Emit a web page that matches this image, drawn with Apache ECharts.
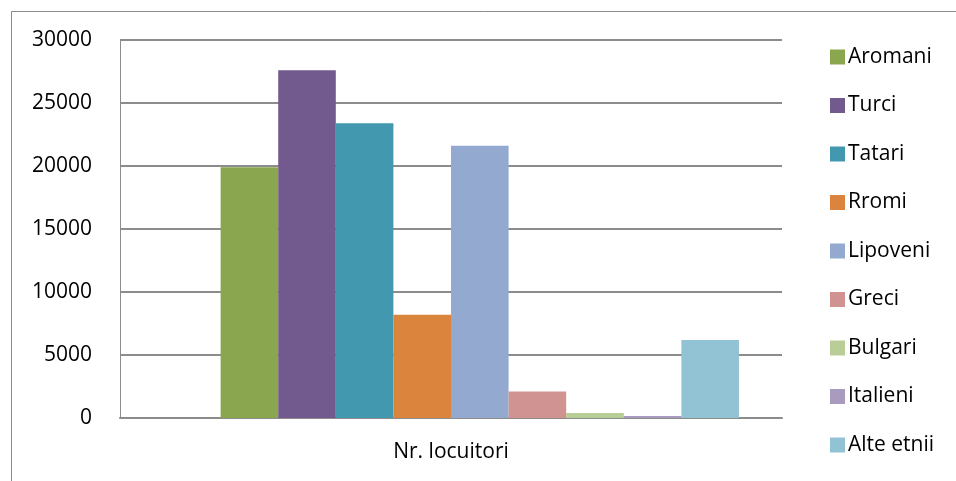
<!DOCTYPE html>
<html><head><meta charset="utf-8">
<script src="https://cdn.jsdelivr.net/npm/echarts@6/dist/echarts.min.js"></script>
<style>html,body{margin:0;padding:0;background:#fff}#c{width:956px;height:481px}</style>
</head><body><div id="c"></div>
<script>
const categories = ['Nr. locuitori'];
const seriesNames = ['Aromani','Turci','Tatari','Rromi','Lipoveni','Greci','Bulgari','Italieni','Alte etnii'];
const seriesValues = [19900, 27600, 23400, 8200, 21600, 2100, 400, 160, 6200];
const seriesColors = ['#8AA64E','#725A8E','#4198AF','#DB843D','#93A9CF','#D19392','#B9CD96','#A99BBD','#92C3D4'];
const yTicks = [0, 5000, 10000, 15000, 20000, 25000, 30000];

const font = '"Open Sans", sans-serif';
const chart = echarts.init(document.getElementById('c'));
const series = [{ name: '_blank', type: 'bar', data: [null], barGap: '0%', barCategoryGap: '13%' }];
seriesNames.forEach((n, i) => series.push({
  name: n, type: 'bar', data: [seriesValues[i]], barGap: '0%', barCategoryGap: '13%',
  itemStyle: { color: seriesColors[i] }
}));
chart.setOption({
  animation: false,
  graphic: [{ type: 'rect', shape: { x: 11.5, y: 11.5, width: 1000, height: 600 },
    style: { fill: 'none', stroke: '#8c8c8c', lineWidth: 1 }, silent: true }],
  grid: { left: 120, right: 174, top: 40, bottom: 63, containLabel: false },
  legend: {
    orient: 'vertical', left: 825, top: 41, itemGap: 26.5, itemWidth: 15, itemHeight: 15,
    icon: 'rect', data: seriesNames,
    textStyle: { fontFamily: font, fontSize: 21, lineHeight: 22, color: '#000', padding: [0, 0, 0, -2] }
  },
  xAxis: {
    type: 'category', data: categories,
    axisLine: { lineStyle: { color: '#8c8c8c', width: 2 } },
    axisTick: { show: false },
    axisLabel: { fontFamily: font, fontSize: 21, color: '#000', margin: 24 }
  },
  yAxis: {
    type: 'value', min: yTicks[0], max: yTicks[yTicks.length - 1], interval: yTicks[1] - yTicks[0],
    axisLine: { show: true, lineStyle: { color: '#8c8c8c', width: 1 } },
    axisTick: { show: false },
    splitLine: { lineStyle: { color: '#8c8c8c', width: 2 } },
    axisLabel: { fontFamily: font, fontSize: 21, color: '#000', margin: 28, formatter: v => String(v) }
  },
  series: series
});
</script></body></html>
